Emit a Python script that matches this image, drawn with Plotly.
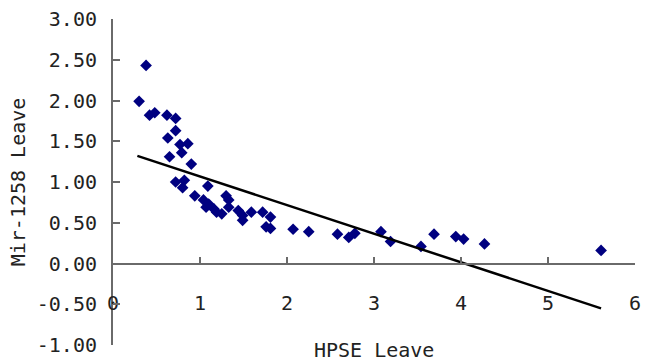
import plotly.graph_objects as go

# Scatter data (HPSE Leave vs Mir-1258 Leave)
hpse = [0.38, 0.30, 0.42, 0.48, 0.62, 0.72, 0.72, 0.63, 0.77, 0.86,
        0.79, 0.65, 0.90, 0.72, 0.82, 0.80, 0.94, 1.09, 1.04, 1.10,
        1.07, 1.16, 1.19, 1.25, 1.30, 1.33, 1.33, 1.44, 1.49, 1.49,
        1.59, 1.72, 1.81, 1.76, 1.81, 2.07, 2.25, 2.58, 2.71, 2.78,
        3.08, 3.19, 3.54, 3.69, 3.94, 4.03, 4.27, 5.61]
mir1258 = [2.43, 1.99, 1.82, 1.85, 1.82, 1.78, 1.63, 1.54, 1.46, 1.47,
           1.36, 1.31, 1.22, 1.00, 1.02, 0.93, 0.83, 0.95, 0.78, 0.73,
           0.69, 0.67, 0.63, 0.61, 0.83, 0.78, 0.69, 0.65, 0.59, 0.53,
           0.63, 0.63, 0.57, 0.45, 0.43, 0.42, 0.39, 0.36, 0.32, 0.37,
           0.39, 0.27, 0.21, 0.36, 0.33, 0.30, 0.24, 0.16]

# Linear trendline end points
trend_x = [0.28, 5.61]
trend_y = [1.32, -0.55]

x_ticks = [0, 1, 2, 3, 4, 5, 6]
y_ticks = [-1.0, -0.5, 0.0, 0.5, 1.0, 1.5, 2.0, 2.5, 3.0]
y_ticktext = ["-1.00", "-0.50", "0.00", "0.50", "1.00", "1.50", "2.00", "2.50", "3.00"]

FONT = "DejaVu Sans Mono"
AXC = "#6a6a6a"
TXT = "#222222"

L, R, T, B = 113, 7, 16, 13
W, H = 648, 364

fig = go.Figure()
fig.add_trace(go.Scatter(
    x=hpse, y=mir1258, mode="markers",
    marker=dict(symbol="diamond", size=9, color="#000080"),
    showlegend=False))
fig.add_trace(go.Scatter(
    x=trend_x, y=trend_y, mode="lines",
    line=dict(color="black", width=2.5),
    showlegend=False))

fig.update_layout(
    width=W, height=H,
    margin=dict(l=L, r=R, t=T, b=B),
    paper_bgcolor="white", plot_bgcolor="white",
    font=dict(family=FONT, size=20, color=TXT),
    xaxis=dict(
        range=[0, 6], tickvals=x_ticks, ticktext=[str(v) for v in x_ticks],
        anchor="free", position=0.25,
        showline=True, linecolor=AXC, linewidth=2,
        ticks="inside", ticklen=6, tickcolor=AXC, tickwidth=2,
        ticklabelstandoff=21, ticklabeloverflow="allow",
        showgrid=False, zeroline=False,
        tickfont=dict(family=FONT, size=20, color=TXT)),
    yaxis=dict(
        range=[-1, 3], tickvals=y_ticks, ticktext=y_ticktext,
        showline=True, linecolor=AXC, linewidth=2,
        ticks="inside", ticklen=7, tickcolor=AXC, tickwidth=2,
        ticklabelstandoff=10, ticklabeloverflow="allow",
        showgrid=False, zeroline=False,
        tickfont=dict(family=FONT, size=20, color=TXT),
        title=dict(text="Mir-1258 Leave", standoff=6,
                   font=dict(family=FONT, size=20, color=TXT))),
    annotations=[dict(
        text="HPSE Leave", xref="paper", yref="paper",
        x=(377 - L) / (W - L - R), y=(H - B - 356) / (H - T - B),
        xanchor="center", yanchor="middle",
        showarrow=False, font=dict(family=FONT, size=20, color=TXT))],
)

fig.write_html("out.html", config={"displayModeBar": False},
               post_script="document.body.style.margin='0px';")
